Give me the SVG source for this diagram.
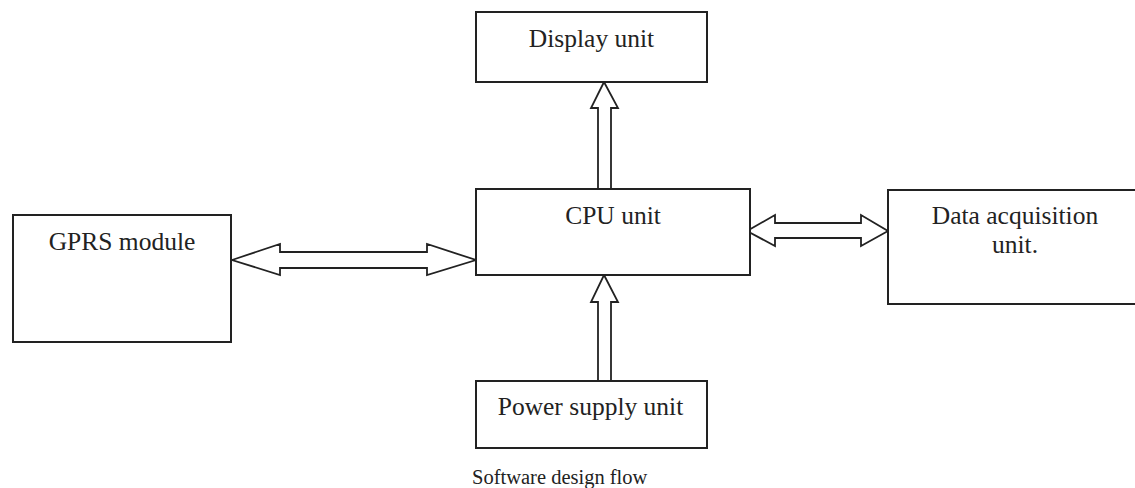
<svg xmlns="http://www.w3.org/2000/svg" width="1135" height="488" viewBox="0 0 1135 488">
<style>
.box{fill:#fff;stroke:#222;stroke-width:2}
.arr{fill:#fff;stroke:#222;stroke-width:1.8;stroke-linejoin:miter}
.t{font-family:"Liberation Serif","Times New Roman",serif;font-size:25.5px;fill:#222;text-anchor:middle}
.cap{font-family:"Liberation Serif","Times New Roman",serif;font-size:20.5px;fill:#222}
</style>
<rect width="1135" height="488" fill="#fff"/>
<g id="connectors">
<polygon class="arr" points="604,82 618,108 611,108 611,189 598,189 598,108 591,108"/>
<polygon class="arr" points="604,275 618,302 611,302 611,381 598,381 598,302 591,302"/>
<polygon class="arr" points="232,260 280,244 280,252 427,252 427,244 476,260 427,275 427,268 280,268 280,275"/>
<polygon class="arr" points="747,231 775,215 775,223 861,223 861,215 888,231 861,246 861,238 775,238 775,246"/>
</g>
<g id="display">
<rect class="box" x="476" y="12" width="231" height="70"/>
<text class="t" x="591.5" y="47">Display unit</text>
</g>
<g id="cpu">
<rect class="box" x="476" y="189" width="274" height="86"/>
<text class="t" x="613" y="224">CPU unit</text>
</g>
<g id="gprs">
<rect class="box" x="13" y="215" width="218" height="127"/>
<text class="t" x="122" y="250">GPRS module</text>
</g>
<g id="data">
<rect class="box" x="888" y="190" width="260" height="114"/>
<text class="t" x="1015" y="224">Data acquisition</text>
<text class="t" x="1015" y="253">unit.</text>
</g>
<g id="power">
<rect class="box" x="476" y="381" width="231" height="67"/>
<text class="t" x="590.5" y="415">Power supply unit</text>
</g>
<text class="cap" x="472" y="484">Software design flow</text>
</svg>
